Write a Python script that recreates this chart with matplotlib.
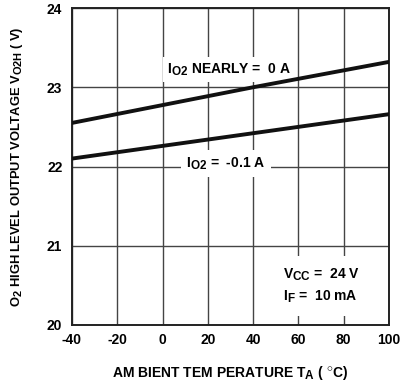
import matplotlib.pyplot as plt
import matplotlib._mathtext as mt

# subscripts in the reference are only slightly smaller than the text
mt.SHRINK_FACTOR = 0.85

plt.rcParams['font.family'] = ['Liberation Sans', 'DejaVu Sans']
plt.rcParams['mathtext.fontset'] = 'custom'
plt.rcParams['mathtext.rm'] = 'Liberation Sans:bold'
plt.rcParams['mathtext.it'] = 'Liberation Sans:bold'
plt.rcParams['mathtext.bf'] = 'Liberation Sans:bold'

temps = [-40, 40, 100]
v_nearly_zero = [22.55, 23.0, 23.32]
v_minus_01 = [22.1, 22.42, 22.66]

x_ticks = [-40, -20, 0, 20, 40, 60, 80, 100]
x_labels = ['-40', '-20', '0', '20', '40', '60', '80', '100']
y_ticks = [20, 21, 22, 23, 24]

fig = plt.figure(figsize=(4.01, 3.92), dpi=100)
ax = fig.add_axes([72 / 401, 1 - 325 / 392, 317 / 401, 317 / 392])

ax.plot(temps, v_nearly_zero, color='#111111', linewidth=2.8, zorder=3)
ax.plot(temps, v_minus_01, color='#111111', linewidth=2.8, zorder=3)

ax.set_xlim(-40, 100)
ax.set_ylim(20, 24)
ax.set_xticks(x_ticks)
ax.set_xticklabels(x_labels)
ax.set_yticks(y_ticks)
ax.tick_params(length=0, labelsize=10)
ax.tick_params(axis='x', pad=6)
ax.tick_params(axis='y', pad=7)
for lbl in ax.get_xticklabels() + ax.get_yticklabels():
    lbl.set_fontweight('bold')
ax.grid(True, color='#444444', linewidth=1.0)
for s in ax.spines.values():
    s.set_color('#222222')
    s.set_linewidth(1.4)

box = dict(facecolor='white', edgecolor='none', pad=3)
ax.text(2, 23.22, r'I$_{\mathregular{O2}}$ NEARLY =  0 A', fontsize=10,
        fontweight='bold', ha='left', va='center', bbox=box, zorder=2)
ax.text(10.5, 22.04, r'I$_{\mathregular{O2}}$ =  -0.1 A', fontsize=10,
        fontweight='bold', ha='left', va='center',
        bbox=dict(facecolor='white', edgecolor='none', pad=4), zorder=2)
ax.text(53, 20.49, 'V$_{\\mathregular{CC}}$ =  24 V\nI$_{\\mathregular{F}}$ =  10 mA',
        fontsize=10, fontweight='bold', ha='left', va='center',
        linespacing=1.45, bbox=dict(facecolor='white', edgecolor='none', pad=8), zorder=2)

ax.set_xlabel(r'AM BIENT TEM PERATURE T$_{\mathregular{A}}$ ( $^{\circ}$C)',
              fontsize=10, fontweight='bold', labelpad=12)
ax.set_ylabel(r'O$_{\mathregular{2}}$ HIGH LEVEL OUTPUT VOLTAGE V$_{\mathregular{O2H}}$ ( V)',
              fontsize=9.3, fontweight='bold', labelpad=16)

fig.savefig('out.png', dpi=100)
